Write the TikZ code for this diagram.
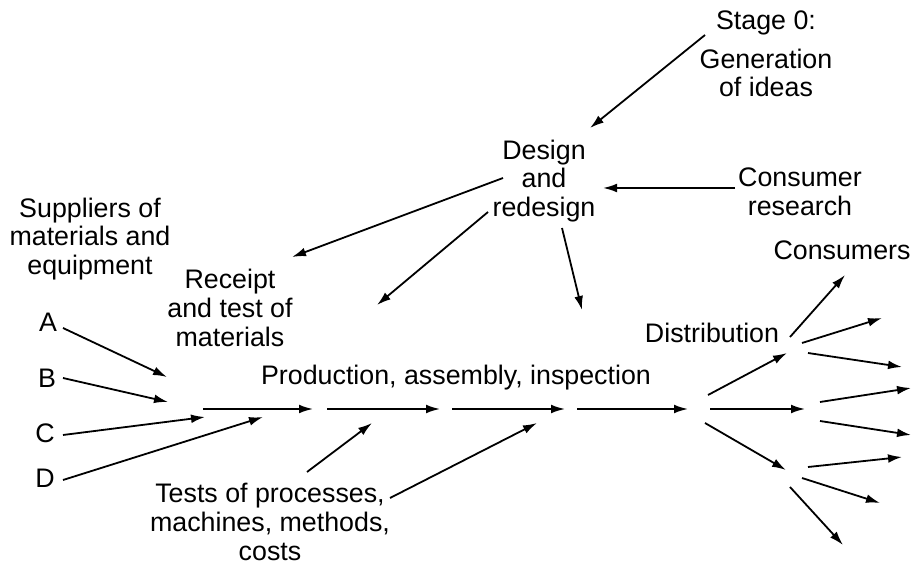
\documentclass[tikz,border=0pt]{standalone}
\usepackage{fontspec}
\setmainfont{Liberation Sans}
\usetikzlibrary{arrows.meta}
\begin{document}
\begin{tikzpicture}[x=0.5pt,y=-0.5pt,
    every node/.style={font=\fontsize{13.4}{14.3}\selectfont, align=center, inner sep=0pt},
    arr/.style={-{Latex[length=7pt,width=4.4pt]}, line width=0.9pt}]
        \useasboundingbox (0,0) rectangle (913,565);
        % texts
        \node (stage) at (766,54) {Stage 0:\\[5pt]Generation\\of ideas};
        \node (design) at (544,181) {Design\\and\\redesign};
        \node (research) at (800,192) {Consumer\\research};
        \node (suppliers) at (90,239) {Suppliers of\\materials and\\equipment};
        \node (receipt) at (230,308) {Receipt\\and test of\\materials};
        \node (A) at (48,322) {A};
        \node (B) at (47,378) {B};
        \node (C) at (45,433) {C};
        \node (D) at (45,478) {D};
        \node (prod) at (456,378) {Production, assembly, inspection};
        \node (tests) at (270,522) {Tests of processes,\\machines, methods,\\costs};
        \node (distr) at (712,333) {Distribution};
        \node (consumers) at (842,250) {Consumers};
        % arrow ends
        \coordinate (st1) at (705,35);  \coordinate (st2) at (590,128);
        \coordinate (re1) at (735,188); \coordinate (re2) at (603,188);
        \coordinate (de1) at (503,178); \coordinate (de2) at (292,257);
        \coordinate (de3) at (488,212); \coordinate (de4) at (377,305);
        \coordinate (de5) at (562,228); \coordinate (de6) at (582,310);
        \coordinate (A1) at (63,328);   \coordinate (A2) at (167,377);
        \coordinate (B1) at (63,378);   \coordinate (B2) at (168,402);
        \coordinate (C1) at (63,435);   \coordinate (C2) at (205,417);
        \coordinate (D1) at (63,480);   \coordinate (D2) at (263,417);
        \coordinate (m1) at (203,409);  \coordinate (m2) at (313,409);
        \coordinate (m3) at (327,409);  \coordinate (m4) at (440,409);
        \coordinate (m5) at (452,409);  \coordinate (m6) at (565,409);
        \coordinate (m7) at (577,409);  \coordinate (m8) at (688,409);
        \coordinate (te1) at (307,472); \coordinate (te2) at (372,423);
        \coordinate (te3) at (390,498); \coordinate (te4) at (537,423);
        \coordinate (di1) at (708,395); \coordinate (di2) at (787,353);
        \coordinate (di3) at (710,409); \coordinate (di4) at (805,409);
        \coordinate (di5) at (705,423); \coordinate (di6) at (786,470);
        \coordinate (up1) at (790,337); \coordinate (up2) at (845,275);
        \coordinate (up3) at (802,343); \coordinate (up4) at (882,318);
        \coordinate (up5) at (808,353); \coordinate (up6) at (902,367);
        \coordinate (mi1) at (820,402); \coordinate (mi2) at (911,388);
        \coordinate (mi3) at (820,421); \coordinate (mi4) at (911,435);
        \coordinate (lo1) at (808,467); \coordinate (lo2) at (902,457);
        \coordinate (lo3) at (802,478); \coordinate (lo4) at (880,503);
        \coordinate (lo5) at (790,487); \coordinate (lo6) at (843,545);
        % design
        \draw[arr] (st1) -- (st2);
        \draw[arr] (re1) -- (re2);
        \draw[arr] (de1) -- (de2);
        \draw[arr] (de3) -- (de4);
        \draw[arr] (de5) -- (de6);
        % suppliers
        \draw[arr] (A1) -- (A2);
        \draw[arr] (B1) -- (B2);
        \draw[arr] (C1) -- (C2);
        \draw[arr] (D1) -- (D2);
        % production line
        \draw[arr] (m1) -- (m2);
        \draw[arr] (m3) -- (m4);
        \draw[arr] (m5) -- (m6);
        \draw[arr] (m7) -- (m8);
        \draw[arr] (te1) -- (te2);
        \draw[arr] (te3) -- (te4);
        % distribution
        \draw[arr] (di1) -- (di2);
        \draw[arr] (di3) -- (di4);
        \draw[arr] (di5) -- (di6);
        \draw[arr] (up1) -- (up2);
        \draw[arr] (up3) -- (up4);
        \draw[arr] (up5) -- (up6);
        \draw[arr] (mi1) -- (mi2);
        \draw[arr] (mi3) -- (mi4);
        \draw[arr] (lo1) -- (lo2);
        \draw[arr] (lo3) -- (lo4);
        \draw[arr] (lo5) -- (lo6);
    \end{tikzpicture}
\end{document}
